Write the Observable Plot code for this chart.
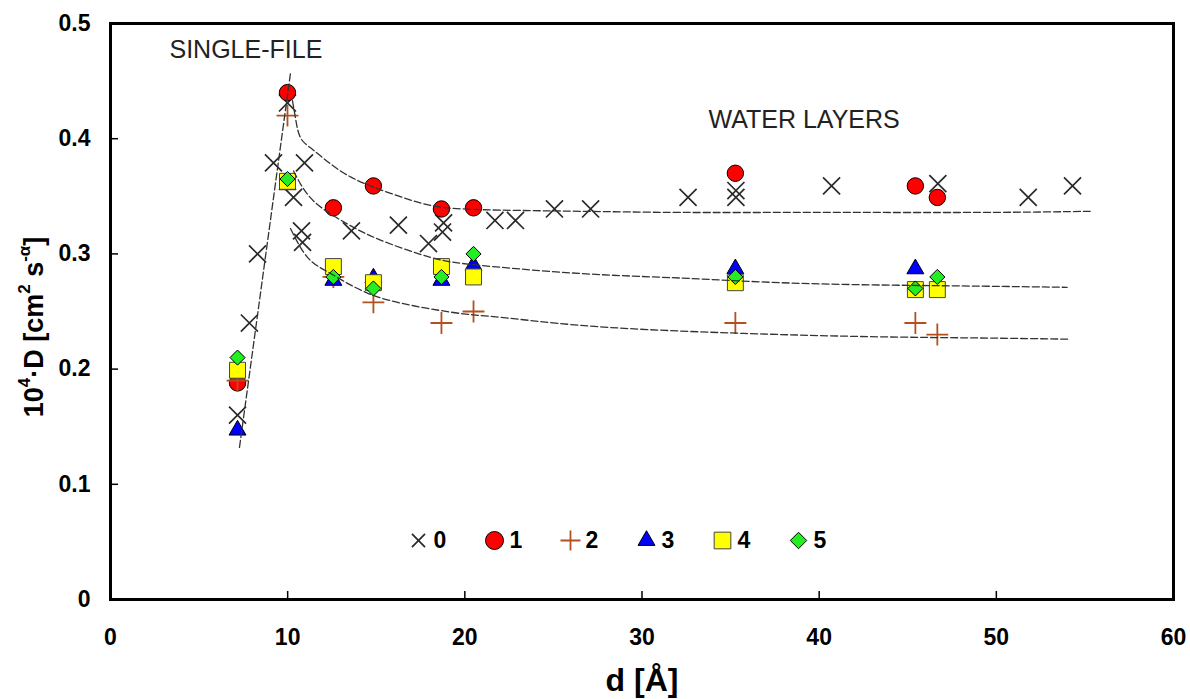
<!DOCTYPE html>
<html><head><meta charset="utf-8">
<script src="https://cdn.jsdelivr.net/npm/d3@7"></script>
<script src="https://cdn.jsdelivr.net/npm/@observablehq/plot@0.6"></script>
<style>
body{margin:0;background:#fff;}
#chart{width:1190px;height:699px;}
</style></head><body><div id="chart"></div>
<script>
// ---- tick labels ----
const xTicks = [0, 10, 20, 30, 40, 50, 60];
const yTicks = [0, 0.1, 0.2, 0.3, 0.4, 0.5];
const seriesNames = ["0", "1", "2", "3", "4", "5"];

// ---- series 0 (×) ----
const d0 = [7.17, 7.84, 8.3, 9.2, 9.99, 10.33, 10.95, 10.78, 10.84, 13.6, 16.25, 17.95, 18.74, 18.8, 21.7, 22.86, 25.06, 27.1, 32.6, 35.3, 35.3, 40.7, 46.7, 51.8, 54.3];
const D0 = [0.16, 0.24, 0.30, 0.379, 0.431, 0.349, 0.379, 0.32, 0.31, 0.32, 0.325, 0.309, 0.319, 0.327, 0.329, 0.329, 0.339, 0.339, 0.349, 0.349, 0.355, 0.359, 0.361, 0.349, 0.359];
// ---- series 1 (circles) ----
const d1 = [7.17, 9.99, 12.58, 14.84, 18.68, 20.49, 35.27, 45.43, 46.67];
const D1 = [0.188, 0.44, 0.34, 0.359, 0.339, 0.34, 0.37, 0.359, 0.349];
// ---- series 2 (+) ----
const d2 = [7.17, 9.99, 12.58, 14.84, 18.68, 20.49, 35.27, 45.43, 46.67];
const D2 = [0.19, 0.42, 0.28, 0.258, 0.24, 0.25, 0.24, 0.24, 0.23];
// ---- series 3 (triangles) ----
const d3s = [7.17, 9.99, 12.58, 14.84, 18.68, 20.49, 35.27, 45.43];
const D3 = [0.147, 0.36, 0.277, 0.279, 0.277, 0.29, 0.287, 0.287];
// ---- series 4 (squares) ----
const d4 = [7.17, 9.99, 12.58, 14.84, 18.68, 20.49, 35.27, 45.43, 46.67];
const D4 = [0.199, 0.363, 0.289, 0.275, 0.289, 0.28, 0.275, 0.269, 0.269];
// ---- series 5 (diamonds) ----
const d5 = [7.17, 9.99, 12.58, 14.84, 18.68, 20.49, 35.27, 45.43, 46.67];
const D5 = [0.21, 0.365, 0.28, 0.27, 0.28, 0.30, 0.28, 0.27, 0.28];

// ---- dashed fit curves ----
const fitSteepD = [7.28, 10.16];
const fitSteepY = [0.132, 0.457];
const fitUpperD = [10.27, 10.44, 10.72, 11.46, 12.98, 14.84, 17.1, 19.0, 22.0, 26.5, 32.2, 39.7, 49.1, 55.3];
const fitUpperY = [0.433, 0.418, 0.401, 0.39, 0.372, 0.358, 0.346, 0.340, 0.338, 0.337, 0.336, 0.336, 0.336, 0.337];
const fitMiddleD = [10.33, 11.46, 13.37, 15.24, 18.06, 20.9, 26.5, 32.2, 37.8, 43.5, 49.1, 54.0];
const fitMiddleY = [0.372, 0.346, 0.326, 0.312, 0.297, 0.290, 0.283, 0.279, 0.275, 0.273, 0.272, 0.271];
const fitLowerD = [10.16, 11.12, 12.42, 14.5, 17.1, 19.9, 22.0, 26.5, 32.2, 37.8, 43.5, 49.1, 54.1];
const fitLowerY = [0.322, 0.297, 0.283, 0.266, 0.255, 0.248, 0.245, 0.238, 0.233, 0.230, 0.228, 0.227, 0.226];

// ---- annotations ----
const annotations = ["SINGLE-FILE", "WATER LAYERS"];
const xLabel = "d [Å]";

// ---- build tables ----
const seriesD = [d0, d1, d2, d3s, d4, d5];
const seriesY = [D0, D1, D2, D3, D4, D5];
const rows = seriesNames.flatMap((s, i) => seriesD[i].map((d, j) => ({s, d, D: seriesY[i][j]})));
const toRows = (xs, ys) => xs.map((d, i) => ({d, D: ys[i]}));
const fits = [toRows(fitSteepD, fitSteepY), toRows(fitUpperD, fitUpperY), toRows(fitMiddleD, fitMiddleY), toRows(fitLowerD, fitLowerY)];

// ---- styles ----
const styles = {
  "0": {symbol: "times", r: 7.8, fill: "none", stroke: "#2a2a2a", strokeWidth: 1.7, legendR: 6},
  "1": {symbol: "circle", r: 8.2, fill: "#ff0000", stroke: "#000000", strokeWidth: 1, legendR: 9},
  "2": {symbol: "plus", r: 7.1, fill: "none", stroke: "#b4501f", strokeWidth: 1.8, legendR: 6.5},
  "3": {symbol: "triangle", r: 6.3, fill: "#0000ff", stroke: "#000000", strokeWidth: 1, legendR: 6.3},
  "4": {symbol: "square", r: 9, fill: "#ffff00", stroke: "#444444", strokeWidth: 1, legendR: 9.4},
  "5": {symbol: "diamond2", r: 6.8, fill: "#22ee22", stroke: "#000000", strokeWidth: 1, legendR: 7.4}
};
const FONT = '"Liberation Sans", Arial, Helvetica, sans-serif';

const marks = [];
// axes with inward ticks
marks.push(Plot.axisX(xTicks, {tickSize: -8, tickPadding: 37, tickFormat: d => String(d), fontSize: 23, fontWeight: "bold", fill: "#000", stroke: "#000", strokeWidth: 1.5, label: null}));
marks.push(Plot.axisY(yTicks, {tickSize: -8, tickPadding: 28, tickFormat: d => String(d), fontSize: 23, fontWeight: "bold", fill: "#000", stroke: "#000", strokeWidth: 1.5, label: null}));

// data points
seriesNames.forEach(s => {
  const st = styles[s];
  marks.push(Plot.dot(rows.filter(r => r.s === s), {x: "d", y: "D", symbol: st.symbol, r: st.r, fill: st.fill, stroke: st.stroke, strokeWidth: st.strokeWidth}));
});

// fit curves
fits.forEach((f, i) => {
  marks.push(Plot.line(f, {x: "d", y: "D", curve: i === 0 ? "linear" : "natural", stroke: "#333", strokeWidth: 1.3, strokeDasharray: "7,3"}));
});

// annotations
marks.push(Plot.text([annotations[0]], {text: d => d, frameAnchor: "top-left", dx: 59, dy: 17, textAnchor: "start", lineAnchor: "top", fontSize: 25, fill: "#222"}));
marks.push(Plot.text([annotations[1]], {text: d => d, frameAnchor: "top-left", dx: 598, dy: 87, textAnchor: "start", lineAnchor: "top", fontSize: 25, fill: "#222"}));

// legend
const legendX0 = 308, legendStep = 76, legendDy = -59;
seriesNames.forEach((s, i) => {
  const st = styles[s];
  marks.push(Plot.dot([s], {frameAnchor: "bottom-left", dx: legendX0 + i * legendStep, dy: legendDy, symbol: st.symbol, r: st.legendR, fill: st.fill, stroke: st.stroke, strokeWidth: st.strokeWidth}));
  marks.push(Plot.text([s], {text: d => d, frameAnchor: "bottom-left", dx: legendX0 + i * legendStep + 15, dy: legendDy, textAnchor: "start", lineAnchor: "middle", fontSize: 23, fontWeight: "bold", fill: "#000"}));
});

// x label
marks.push(Plot.text([xLabel], {text: d => d, frameAnchor: "bottom", dy: 81, lineAnchor: "middle", fontSize: 32, fontWeight: "bold", fill: "#000"}));

marks.push(Plot.frame({stroke: "#000", strokeWidth: 3}));

const plot = Plot.plot({
  width: 1190,
  height: 699,
  marginLeft: 110,
  marginRight: 17,
  marginTop: 23,
  marginBottom: 100,
  x: {domain: [0, 60]},
  y: {domain: [0, 0.5]},
  style: {fontFamily: FONT, background: "#fff", color: "#000"},
  marks
});

// y label with superscripts
const svg = d3.select(plot);
const yl = svg.append("text")
  .attr("transform", "translate(43,327) rotate(-90)")
  .attr("text-anchor", "middle")
  .attr("font-family", FONT)
  .attr("font-size", 27)
  .attr("font-weight", "bold")
  .attr("fill", "#000");
yl.append("tspan").text("10");
yl.append("tspan").attr("font-size", 17).attr("dy", -13).text("4");
yl.append("tspan").attr("dy", 13).text("·D [cm");
yl.append("tspan").attr("font-size", 17).attr("dy", -13).text("2");
yl.append("tspan").attr("dy", 13).text(" s");
yl.append("tspan").attr("font-size", 17).attr("dy", -13).text("-α");
yl.append("tspan").attr("dy", 13).text("]");

document.getElementById("chart").appendChild(plot);
</script>
</body></html>
